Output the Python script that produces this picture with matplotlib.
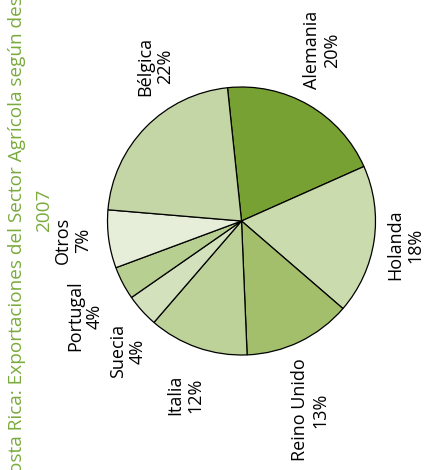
import matplotlib
matplotlib.use('Agg')
import matplotlib.pyplot as plt

# datos (en el orden de la torta, sentido horario desde arriba)
paises = ['Alemania', 'Holanda', 'Reino Unido', 'Italia', 'Suecia', 'Portugal', 'Otros', 'Bélgica']
porcentajes = [20, 18, 13, 12, 4, 4, 7, 22]
colores = ['#77a233', '#cadcad', '#a3bf6c', '#bcd298', '#d3e1bd', '#b8cf92', '#e6eed9', '#c5d6a6']

titulo = 'Costa Rica: Exportaciones del Sector Agrícola según destino'
anio = '2007'

plt.rcParams['font.family'] = ['Open Sans', 'DejaVu Sans']

W, H = 426, 470
fig = plt.figure(figsize=(W / 100, H / 100), dpi=100)
ax = fig.add_axes([0, 0, 1, 1])

# centro y radio de la torta en pixeles (origen abajo a la izquierda)
ax.pie(porcentajes, colors=colores, startangle=96, counterclock=False,
       center=(241.5, H - 221), radius=134, frame=True,
       wedgeprops=dict(edgecolor='black', linewidth=0.9))
ax.set_xlim(0, W)
ax.set_ylim(0, H)
ax.axis('off')

# posiciones de las etiquetas (pixeles de imagen, girado 90 grados)
pos_etiquetas = [(322, 50), (405, 245), (310, 410), (185, 395),
                 (128, 351), (85, 316), (73, 240), (155, 66)]
for nombre, val, (px, py) in zip(paises, porcentajes, pos_etiquetas):
    ax.text(px, H - py, f'{nombre}\n{val}%', rotation=90, ha='center', va='center',
            fontsize=13, linespacing=1.15, color='black')

# título vertical en verde (recortado en el borde como en el original)
verde = '#7aab3c'
fig.text(17 / W, 1 - 223 / H, titulo, rotation=90, ha='center', va='center',
         fontsize=13.7, color=verde)
fig.text(44 / W, 1 - 210 / H, anio, rotation=90, ha='center', va='center',
         fontsize=13.7, color=verde)

plt.savefig('out.png', dpi=100)
